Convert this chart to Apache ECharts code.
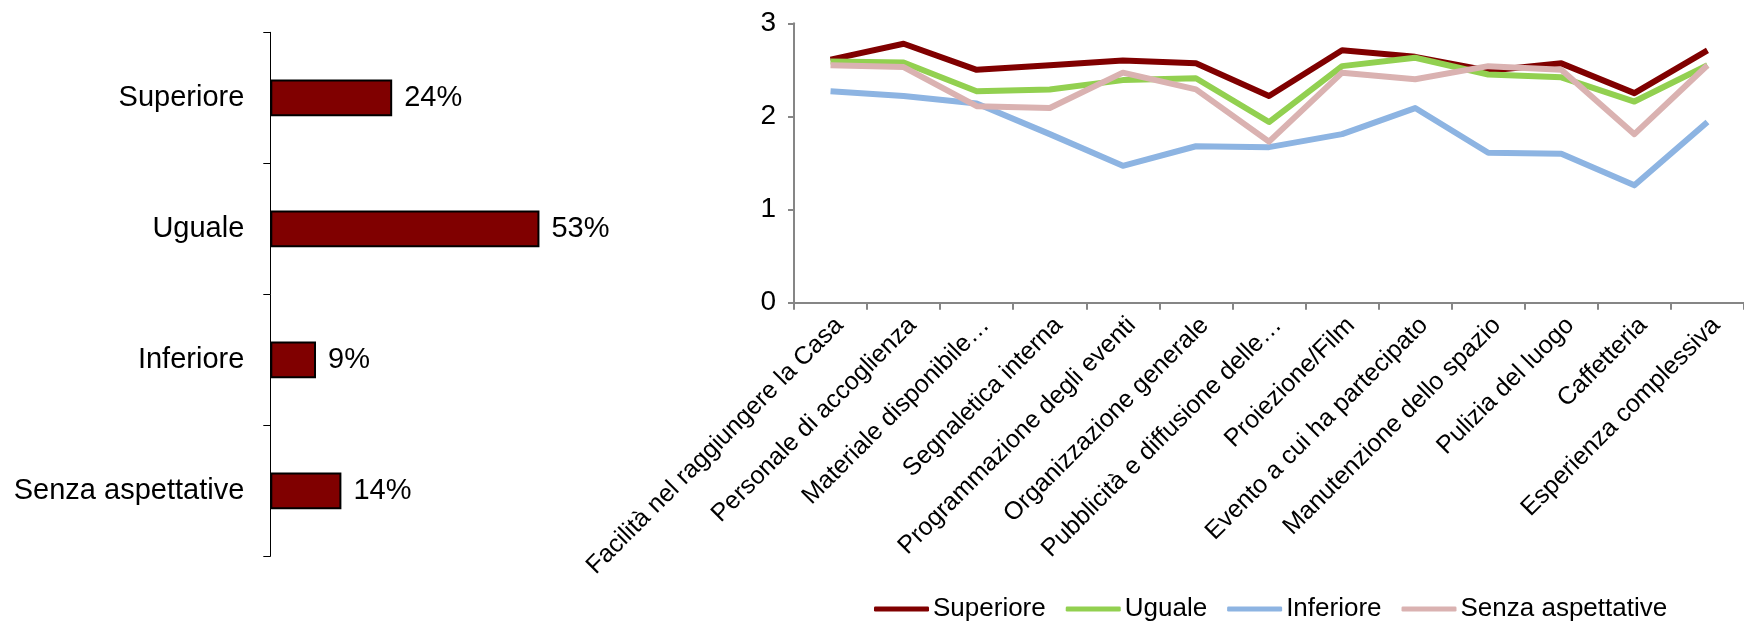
<!DOCTYPE html>
<html>
<head>
<meta charset="utf-8">
<script src="https://cdn.jsdelivr.net/npm/echarts@6/dist/echarts.min.js"></script>
<style>
  html, body { margin: 0; padding: 0; background: #fff; }
  #chart { width: 1744px; height: 622px; }
</style>
</head>
<body>
<div id="chart"></div>
<script>
// Bar chart: share of answers by expectation
const barCategories = ['Superiore', 'Uguale', 'Inferiore', 'Senza aspettative'];
const barValues = [24, 53, 9, 14];

// Line chart: average score per aspect, by expectation group
const lineCategories = [
  'Facilità nel raggiungere la Casa',
  'Personale di accoglienza',
  'Materiale disponibile…',
  'Segnaletica interna',
  'Programmazione degli eventi',
  'Organizzazione generale',
  'Pubblicità e diffusione delle…',
  'Proiezione/Film',
  'Evento a cui ha partecipato',
  'Manutenzione dello spazio',
  'Pulizia del luogo',
  'Caffetteria',
  'Esperienza complessiva'
];
const superiore = [2.61, 2.78, 2.50, 2.55, 2.60, 2.57, 2.22, 2.71, 2.64, 2.49, 2.57, 2.25, 2.71];
const uguale = [2.59, 2.58, 2.27, 2.29, 2.39, 2.41, 1.94, 2.54, 2.63, 2.45, 2.42, 2.16, 2.55];
const inferiore = [2.27, 2.22, 2.14, 1.81, 1.47, 1.68, 1.67, 1.81, 2.09, 1.61, 1.60, 1.26, 1.94];
const senzaAspettative = [2.55, 2.53, 2.11, 2.09, 2.47, 2.29, 1.73, 2.47, 2.40, 2.54, 2.50, 1.81, 2.55];
const yTicks = { min: 0, max: 3, interval: 1 };

const FONT = 'Liberation Sans, Arial, sans-serif';
const AXIS_GREY = '#868686';

const chart = echarts.init(document.getElementById('chart'), null, { renderer: 'canvas' });

const lineSeries = [
  { name: 'Superiore', data: superiore, color: '#800000' },
  { name: 'Uguale', data: uguale, color: '#92D050' },
  { name: 'Inferiore', data: inferiore, color: '#8DB4E2' },
  { name: 'Senza aspettative', data: senzaAspettative, color: '#DAB2B1' }
].map(s => ({
  name: s.name,
  type: 'line',
  xAxisIndex: 1,
  yAxisIndex: 1,
  data: s.data,
  symbol: 'none',
  smooth: false,
  color: s.color,
  lineStyle: { width: 6, color: s.color, join: 'round' },
  emphasis: { disabled: true }
}));

chart.setOption({
  animation: false,
  textStyle: { fontFamily: FONT },
  legend: {
    data: lineSeries.map(s => s.name),
    left: 869,
    top: 591,
    icon: 'roundRect',
    itemWidth: 55,
    itemHeight: 5,
    itemGap: 20,
    textStyle: { fontSize: 26, color: '#000', fontFamily: FONT, padding: [0, 0, 0, -1] }
  },
  grid: [
    { left: 270.3, top: 32.3, width: 304.7, height: 524 },
    { left: 794, top: 23.3, width: 966.7, height: 279.4 }
  ],
  xAxis: [
    { type: 'value', gridIndex: 0, min: 0, max: 60, show: false },
    {
      type: 'category',
      gridIndex: 1,
      data: lineCategories,
      boundaryGap: true,
      axisLine: { show: true, lineStyle: { color: AXIS_GREY, width: 2 } },
      axisTick: { show: true, length: 7, interval: 0, lineStyle: { color: AXIS_GREY, width: 2 } },
      axisLabel: {
        interval: 0,
        rotate: 45,
        fontSize: 25,
        color: '#000',
        margin: 10,
        align: 'right',
        verticalAlign: 'top',
        fontFamily: FONT
      },
      splitLine: { show: false }
    }
  ],
  yAxis: [
    {
      type: 'category',
      gridIndex: 0,
      data: barCategories,
      inverse: true,
      axisLine: { show: true, lineStyle: { color: '#000', width: 1 } },
      axisTick: { show: true, length: 7, lineStyle: { color: '#000', width: 1 } },
      axisLabel: { fontSize: 29, color: '#000', margin: 26, fontFamily: FONT },
      splitLine: { show: false }
    },
    {
      type: 'value',
      gridIndex: 1,
      min: yTicks.min,
      max: yTicks.max,
      interval: yTicks.interval,
      axisLine: { show: true, lineStyle: { color: AXIS_GREY, width: 2 } },
      axisTick: { show: true, length: 6, lineStyle: { color: AXIS_GREY, width: 2 } },
      axisLabel: { fontSize: 28, color: '#000', margin: 18, fontFamily: FONT },
      splitLine: { show: false }
    }
  ],
  series: [
    {
      type: 'bar',
      xAxisIndex: 0,
      yAxisIndex: 0,
      data: barValues,
      barWidth: '28%',
      itemStyle: { color: '#800000', borderColor: '#000', borderWidth: 2 },
      label: {
        show: true,
        position: 'right',
        distance: 12,
        formatter: '{c}%',
        fontSize: 29,
        color: '#000',
        fontFamily: FONT
      },
      emphasis: { disabled: true }
    },
    ...lineSeries
  ]
});
</script>
</body>
</html>
